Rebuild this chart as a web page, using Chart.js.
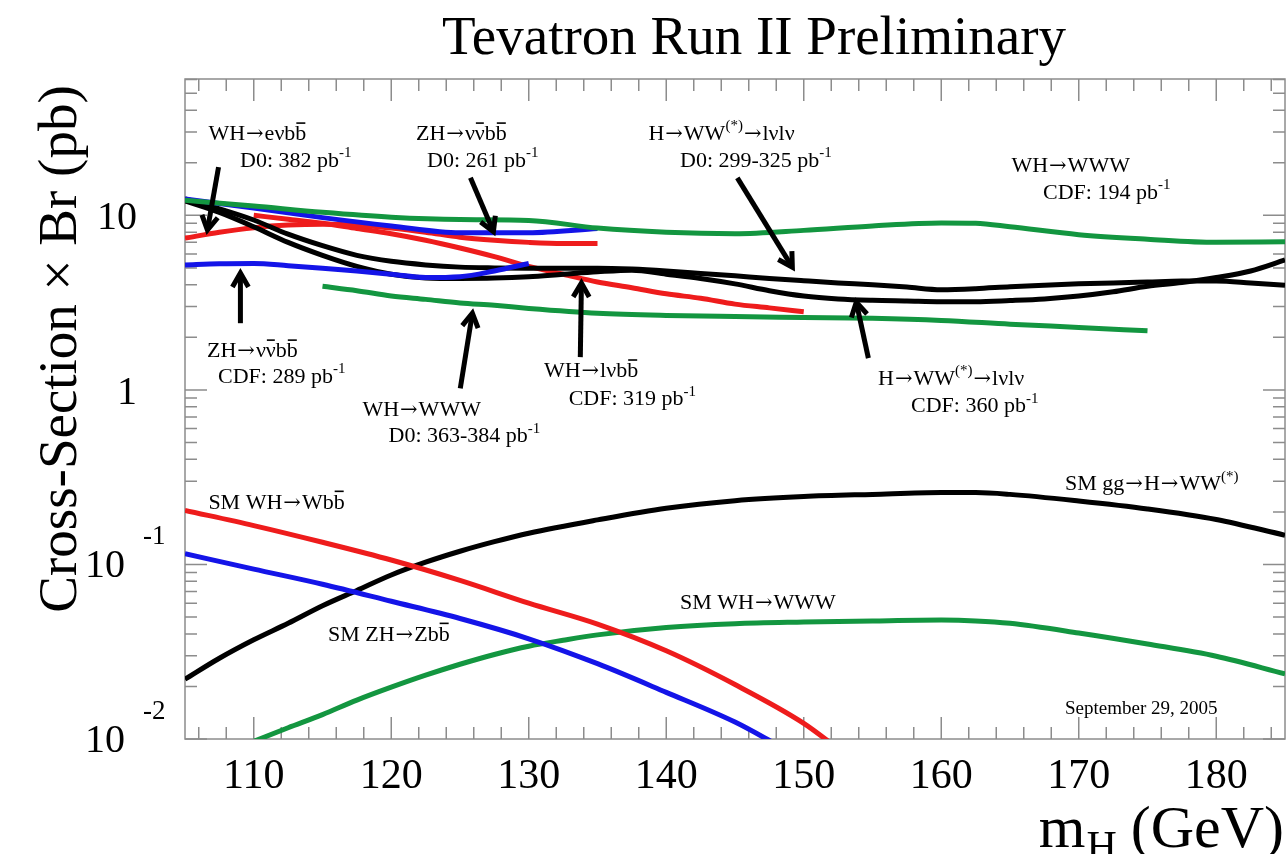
<!DOCTYPE html>
<html>
<head>
<meta charset="utf-8">
<title>Tevatron Run II Preliminary</title>
<script src="https://cdn.jsdelivr.net/npm/chart.js@4.4.0/dist/chart.umd.min.js"></script>
<style>
  html, body { margin: 0; padding: 0; background: #fff; }
  #wrap { width: 1287px; height: 854px; }
</style>
</head>
<body>
<div id="wrap"><canvas id="xsChart" width="1287" height="854"></canvas></div>
<script>
// --- Values: m_H (GeV) and cross-section x Br (pb) ---

// 95% CL limits
const mWWW_CDF   = [105, 110, 115, 120, 125, 130, 135, 140, 145, 150, 155, 160, 162.5, 165, 170, 175, 180, 185];
const limWWW_CDF = [12.2, 11.3, 10.4, 9.75, 9.45, 9.35, 8.45, 8.0, 7.85, 8.2, 8.7, 9.05, 9.0, 8.6, 7.75, 7.3, 7.0, 7.05];

const mWWW_D0   = [115, 117.5, 120, 122.5, 125, 127.5, 130, 135, 140, 145, 150, 155, 160, 165, 170, 175];
const limWWW_D0 = [3.92, 3.7, 3.45, 3.3, 3.15, 3.05, 2.93, 2.75, 2.67, 2.63, 2.6, 2.57, 2.5, 2.38, 2.28, 2.18];

const mZH_D0   = [105, 110, 115, 120, 125, 130, 135];
const limZH_D0 = [12.4, 11.0, 9.7, 8.7, 7.95, 7.95, 8.4];

const mZH_CDF   = [105, 107.5, 110, 112.5, 115, 117.5, 120, 122.5, 125, 127.5, 130];
const limZH_CDF = [5.2, 5.28, 5.3, 5.15, 4.98, 4.8, 4.6, 4.4, 4.45, 4.8, 5.3];

const mWH_D0   = [105, 107.5, 110, 112.5, 115, 117.5, 120, 122.5, 125, 127.5, 130, 132.5, 135];
const limWH_D0 = [7.4, 8.0, 8.5, 8.8, 8.9, 8.8, 8.45, 8.0, 7.5, 7.2, 7.0, 6.9, 6.9];

const mWH_CDF   = [110, 112.5, 115, 117.5, 120, 122.5, 125, 127.5, 130, 132.5, 135, 137.5, 140, 142.5, 145, 147.5, 150];
const limWH_CDF = [10.0, 9.5, 9.0, 8.4, 7.85, 7.2, 6.5, 5.8, 5.1, 4.6, 4.15, 3.85, 3.55, 3.35, 3.1, 2.95, 2.8];

const mHWW      = [105, 107.5, 110, 112.5, 115, 117.5, 120, 122.5, 125, 127.5, 130, 132.5, 135, 137.5, 140, 142.5, 145, 147.5, 150, 152.5, 155, 157.5, 160, 162.5, 165, 167.5, 170, 172.5, 175, 177.5, 180, 182.5, 185];
const limHWW_D0 = [12.4, 10.9, 9.4, 7.8, 6.7, 5.9, 5.45, 5.2, 5.05, 5.0, 4.98, 4.98, 4.98, 4.92, 4.8, 4.65, 4.5, 4.35, 4.22, 4.1, 4.0, 3.88, 3.75, 3.8, 3.9, 3.98, 4.05, 4.1, 4.15, 4.2, 4.2, 4.1, 3.98];
const limHWW_CDF = [12.1, 10.4, 8.6, 7.0, 5.9, 5.1, 4.6, 4.38, 4.35, 4.37, 4.45, 4.6, 4.75, 4.85, 4.6, 4.35, 4.05, 3.7, 3.45, 3.32, 3.26, 3.23, 3.2, 3.2, 3.25, 3.32, 3.45, 3.65, 3.92, 4.12, 4.4, 4.8, 5.55];

// Standard Model predictions
const mSM_Wbb  = [105, 110, 115, 120, 125, 130, 135, 140, 145, 150, 152.5];
const smWH_Wbb = [0.204, 0.167, 0.134, 0.106, 0.081, 0.060, 0.0455, 0.032, 0.0205, 0.0123, 0.0088];

const mSM_Zbb  = [105, 110, 115, 120, 125, 130, 135, 140, 145, 147.5, 148];
const smZH_Zbb = [0.1153, 0.094, 0.077, 0.0615, 0.049, 0.0375, 0.027, 0.0185, 0.0125, 0.0098, 0.0093];

const mSM_ggWW  = [105, 107.5, 110, 112.5, 115, 117.5, 120, 122.5, 125, 127.5, 130, 135, 140, 145, 150, 155, 160, 162.5, 165, 170, 175, 180, 185];
const smGG_HWW  = [0.022, 0.029, 0.037, 0.046, 0.058, 0.071, 0.087, 0.103, 0.119, 0.135, 0.151, 0.18, 0.21, 0.232, 0.245, 0.252, 0.258, 0.258, 0.252, 0.231, 0.208, 0.181, 0.147];

const mSM_WWW  = [110, 112.5, 115, 117.5, 120, 122.5, 125, 127.5, 130, 132.5, 135, 140, 145, 150, 155, 160, 162.5, 165, 170, 175, 180, 185];
const smWH_WWW = [0.0097, 0.0116, 0.0138, 0.0167, 0.0198, 0.0232, 0.0268, 0.0305, 0.034, 0.0368, 0.0395, 0.0435, 0.0458, 0.0468, 0.0475, 0.048, 0.0475, 0.046, 0.0405, 0.035, 0.0298, 0.0236];

// axis ticks
const xTickLabels = [110, 120, 130, 140, 150, 160, 170, 180];
const yDecades = [-2, -1, 0, 1];

// text labels: anchor (m_H, pb) = left end, vertical centre
const notes = [
  { m: 106.7, s: 29.6, parts: [['WH\u2192e\u03bdb'], ['b', 'bar']] },
  { m: 109.0, s: 20.8, parts: [['D0: 382 pb'], ['-1', 'sup']] },
  { m: 121.8, s: 29.6, parts: [['ZH\u2192\u03bd'], ['\u03bd', 'bar'], ['b'], ['b', 'bar']] },
  { m: 122.6, s: 20.8, parts: [['D0: 261 pb'], ['-1', 'sup']] },
  { m: 138.7, s: 29.6, parts: [['H\u2192WW'], ['(*)', 'sup'], ['\u2192l\u03bdl\u03bd']] },
  { m: 141.0, s: 20.8, parts: [['D0: 299-325 pb'], ['-1', 'sup']] },
  { m: 165.1, s: 19.4, parts: [['WH\u2192WWW']] },
  { m: 167.4, s: 13.6, parts: [['CDF: 194 pb'], ['-1', 'sup']] },
  { m: 106.6, s: 1.69, parts: [['ZH\u2192\u03bd'], ['\u03bd', 'bar'], ['b'], ['b', 'bar']] },
  { m: 107.4, s: 1.20, parts: [['CDF: 289 pb'], ['-1', 'sup']] },
  { m: 117.9, s: 0.785, parts: [['WH\u2192WWW']] },
  { m: 119.8, s: 0.550, parts: [['D0: 363-384 pb'], ['-1', 'sup']] },
  { m: 131.1, s: 1.30, parts: [['WH\u2192l\u03bdb'], ['b', 'bar']] },
  { m: 132.9, s: 0.896, parts: [['CDF: 319 pb'], ['-1', 'sup']] },
  { m: 155.4, s: 1.17, parts: [['H\u2192WW'], ['(*)', 'sup'], ['\u2192l\u03bdl\u03bd']] },
  { m: 157.8, s: 0.817, parts: [['CDF: 360 pb'], ['-1', 'sup']] },
  { m: 106.7, s: 0.230, parts: [['SM WH\u2192Wb'], ['b', 'bar']] },
  { m: 115.4, s: 0.0403, parts: [['SM ZH\u2192Zb'], ['b', 'bar']] },
  { m: 141.0, s: 0.0614, parts: [['SM WH\u2192WWW']] },
  { m: 169.0, s: 0.292, parts: [['SM gg\u2192H\u2192WW'], ['(*)', 'sup']] },
  { m: 169.0, s: 0.0152, parts: [['September 29, 2005']], small: true }
];

// arrows: [tail, tip] in (m_H, pb)
const arrows = [
  [[107.44, 18.9], [106.63, 8.24]],
  [[125.76, 16.4], [127.43, 8.07]],
  [[145.17, 16.4], [149.17, 5.05]],
  [[109.03, 2.41], [109.03, 4.67]],
  [[125.02, 1.02], [125.90, 2.75]],
  [[133.75, 1.54], [133.83, 4.09]],
  [[154.70, 1.52], [153.82, 3.18]]
];

const FONT = '"Liberation Serif", "DejaVu Serif", serif';
const ARROW_FONT = '"DejaVu Serif", serif';
const RED = '#ee1c1c', BLUE = '#1414e8', GREEN = '#139640', BLACK = '#000000';

function series(ms, vs) {
  return ms.map((m, i) => ({ x: m, y: vs[i] }));
}

function curve(ms, vs, color) {
  return {
    data: series(ms, vs),
    borderColor: color,
    backgroundColor: color,
    borderWidth: 5,
    pointRadius: 0,
    fill: false,
    cubicInterpolationMode: 'monotone',
    borderJoinStyle: 'round'
  };
}

// draw a run of text, using a wider glyph for the arrow sign
function drawPlain(ctx, txt, x, y, fs) {
  let cx = x;
  txt.split(/(\u2192)/).forEach(piece => {
    if (!piece) return;
    if (piece === '\u2192') {
      ctx.font = Math.round(fs * 0.95) + 'px ' + ARROW_FONT;
      ctx.fillText(piece, cx + 1, y);
      cx += ctx.measureText(piece).width + 2;
    } else {
      ctx.font = fs + 'px ' + FONT;
      ctx.fillText(piece, cx, y);
      cx += ctx.measureText(piece).width;
    }
  });
  return cx - x;
}

// text with superscripts and overbars
function drawRich(ctx, parts, x, y, size) {
  let cx = x;
  for (const [txt, kind] of parts) {
    let fs = size, dy = 0;
    if (kind === 'sup') { fs = Math.round(size * 0.68); dy = -size * 0.45; }
    const w = drawPlain(ctx, txt, cx, y + dy, fs);
    if (kind === 'bar') {
      ctx.fillRect(cx + 1, y - size * 0.82, w - 2, 1.6);
    }
    cx += w;
  }
}

const framePlugin = {
  id: 'rootFrame',
  beforeDatasetsDraw(chart) {
    const { ctx, chartArea: a, scales: { x, y } } = chart;
    ctx.save();
    ctx.strokeStyle = '#8c8c8c';
    ctx.lineWidth = 1.5;
    ctx.strokeRect(a.left, a.top, a.right - a.left, a.bottom - a.top);
    ctx.beginPath();
    for (let m = 106; m <= 184; m += 2) {
      const px = x.getPixelForValue(m);
      const len = m % 10 === 0 ? 22 : 12;
      ctx.moveTo(px, a.bottom); ctx.lineTo(px, a.bottom - len);
      ctx.moveTo(px, a.top); ctx.lineTo(px, a.top + len);
    }
    for (let d = -2; d <= 1; d++) {
      for (let k = 1; k <= 9; k++) {
        const v = k * Math.pow(10, d);
        if (v < y.min || v > y.max) continue;
        const py = y.getPixelForValue(v);
        const len = k === 1 ? 22 : 12;
        ctx.moveTo(a.left, py); ctx.lineTo(a.left + len, py);
        ctx.moveTo(a.right, py); ctx.lineTo(a.right - len, py);
      }
    }
    ctx.stroke();
    ctx.restore();
  },
  afterDatasetsDraw(chart) {
    const { ctx, chartArea: a, scales: { x, y } } = chart;
    ctx.save();
    ctx.fillStyle = '#000';
    ctx.textBaseline = 'alphabetic';

    // title
    ctx.font = '55px ' + FONT;
    ctx.textAlign = 'center';
    ctx.fillText('Tevatron Run II Preliminary', 754, 54);

    // x tick labels
    ctx.font = '42px ' + FONT;
    xTickLabels.forEach(m => ctx.fillText(String(m), x.getPixelForValue(m), a.bottom + 49));

    // y tick labels
    yDecades.forEach(d => {
      const py = y.getPixelForValue(Math.pow(10, d));
      ctx.font = '40px ' + FONT;
      ctx.textAlign = 'right';
      if (d >= 0) {
        ctx.fillText(d === 0 ? '1' : '10', a.left - 48, py + 14);
      } else {
        ctx.fillText('10', a.left - 60, py + 13);
        ctx.font = '27px ' + FONT;
        ctx.textAlign = 'left';
        ctx.fillText(String(d), a.left - 42, py - 20);
      }
    });

    // y axis title
    ctx.save();
    ctx.translate(76, 349);
    ctx.rotate(-Math.PI / 2);
    ctx.font = '55px ' + FONT;
    ctx.textAlign = 'center';
    ctx.fillText('Cross-Section \u00d7 Br (pb)', 0, 0);
    ctx.restore();

    // x axis title: m_H (GeV)
    ctx.textAlign = 'left';
    ctx.font = '60px ' + FONT;
    const wGeV = ctx.measureText('(GeV)').width;
    const xGeV = 1284 - wGeV;
    ctx.fillText('(GeV)', xGeV, 847);
    ctx.font = '42px ' + FONT;
    const wH = ctx.measureText('H').width;
    const xH = xGeV - 14 - wH;
    ctx.fillText('H', xH, 860);
    ctx.font = '60px ' + FONT;
    const wM = ctx.measureText('m').width;
    ctx.fillText('m', xH - wM - 1, 847);

    // annotations
    notes.forEach(n => {
      const size = n.small ? 19 : 22;
      const px = x.getPixelForValue(n.m);
      const py = y.getPixelForValue(n.s) + size * 0.33;
      drawRich(ctx, n.parts, px, py, size);
    });

    // arrows
    ctx.strokeStyle = '#000';
    ctx.lineWidth = 5;
    ctx.lineJoin = 'miter';
    arrows.forEach(([tail, tip]) => {
      const x0 = x.getPixelForValue(tail[0]), y0 = y.getPixelForValue(tail[1]);
      const x1 = x.getPixelForValue(tip[0]), y1 = y.getPixelForValue(tip[1]);
      const ang = Math.atan2(y1 - y0, x1 - x0);
      const head = 16, spread = Math.PI / 6;
      ctx.beginPath();
      ctx.moveTo(x0, y0);
      ctx.lineTo(x1 - Math.cos(ang) * 3, y1 - Math.sin(ang) * 3);
      ctx.stroke();
      ctx.beginPath();
      ctx.moveTo(x1 - head * Math.cos(ang - spread), y1 - head * Math.sin(ang - spread));
      ctx.lineTo(x1, y1);
      ctx.lineTo(x1 - head * Math.cos(ang + spread), y1 - head * Math.sin(ang + spread));
      ctx.stroke();
    });
    ctx.restore();
  }
};

const ctx = document.getElementById('xsChart').getContext('2d');
new Chart(ctx, {
  type: 'line',
  data: {
    datasets: [
      curve(mWWW_CDF, limWWW_CDF, GREEN),
      curve(mWWW_D0, limWWW_D0, GREEN),
      curve(mZH_D0, limZH_D0, BLUE),
      curve(mZH_CDF, limZH_CDF, BLUE),
      curve(mHWW, limHWW_D0, BLACK),
      curve(mHWW, limHWW_CDF, BLACK),
      curve(mWH_D0, limWH_D0, RED),
      curve(mWH_CDF, limWH_CDF, RED),
      curve(mSM_Wbb, smWH_Wbb, RED),
      curve(mSM_Zbb, smZH_Zbb, BLUE),
      curve(mSM_ggWW, smGG_HWW, BLACK),
      curve(mSM_WWW, smWH_WWW, GREEN)
    ]
  },
  options: {
    responsive: false,
    animation: false,
    layout: { padding: { left: 185, right: 2, top: 79, bottom: 115 } },
    scales: {
      x: { type: 'linear', min: 105, max: 185, display: false },
      y: { type: 'logarithmic', min: 0.01, max: 60.4, display: false }
    },
    plugins: {
      legend: { display: false },
      tooltip: { enabled: false }
    }
  },
  plugins: [framePlugin]
});
</script>
</body>
</html>
